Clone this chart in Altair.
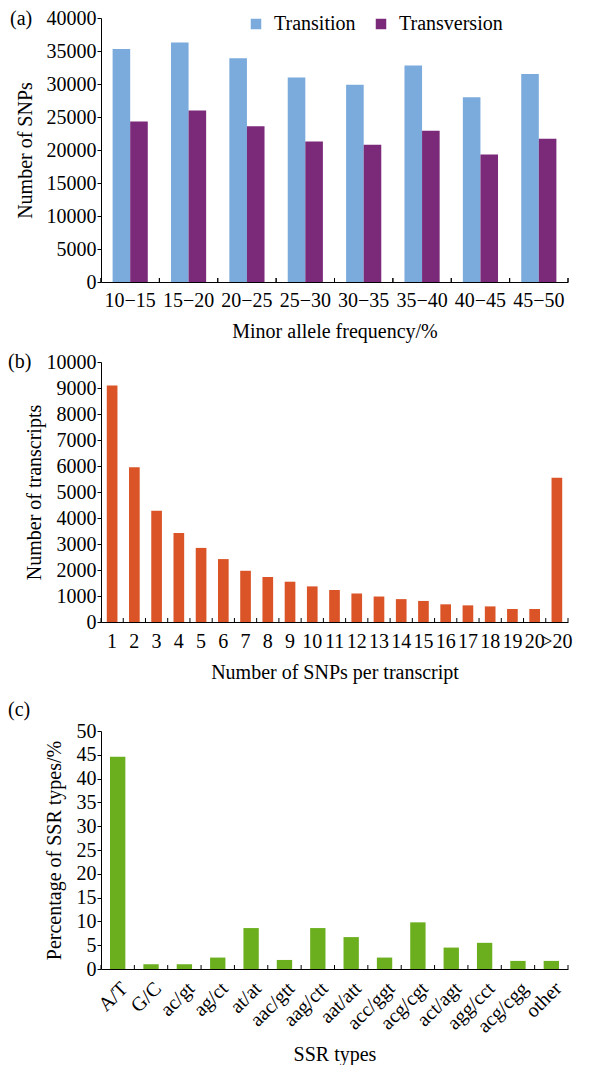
import altair as alt
import pandas as pd

# ---------------- data ----------------
maf_bins = ["10−15", "15−20", "20−25", "25−30", "30−35", "35−40", "40−45", "45−50"]
transition = [35300, 36300, 33900, 31000, 29900, 32800, 28000, 31500]
transversion = [24300, 26000, 23600, 21300, 20800, 22900, 19300, 21700]
snp_types = ["Transition", "Transversion"]

snp_counts = [str(i) for i in range(1, 21)] + [">20"]
transcripts = [9100, 5950, 4280, 3420, 2850, 2420, 1970, 1730, 1550, 1370,
               1230, 1100, 980, 880, 810, 680, 640, 600, 500, 500, 5550]

ssr_types = ["A/T", "G/C", "ac/gt", "ag/ct", "at/at", "aac/gtt", "aag/ctt",
             "aat/att", "acc/ggt", "acg/cgt", "act/agt", "agg/cct", "acg/cgg", "other"]
ssr_pct = [44.6, 1.0, 1.0, 2.4, 8.6, 1.9, 8.6, 6.7, 2.4, 9.8, 4.5, 5.5, 1.7, 1.7]

panel_labels = ["(a)", "(b)", "(c)"]

# ---------------- style ----------------
FONT = "Liberation Serif"
FS = 20
BLUE = "#7BAADC"
PURPLE = "#7A2A78"
ORANGE = "#DA5427"
GREEN = "#6BAF1F"
W = 467
HA, HB, HC = 264, 260, 238
TICK = 4


def xdef(cats, axis, band=None):
    kw = dict(sort=cats, scale=alt.Scale(paddingInner=0, paddingOuter=0), axis=axis)
    if band is not None:
        kw["bandPosition"] = band
    return alt.X("cat:N", **kw)


def inner_ticks(df, cats, axis, h):
    t = alt.Chart(df).mark_rule(color="black", strokeWidth=1).encode(
        x=xdef(cats, axis, 0), y=alt.value(h), y2=alt.value(h - TICK))
    end = alt.Chart(df).transform_filter(
        alt.datum.cat == cats[-1]).mark_rule(color="black", strokeWidth=1).encode(
        x=xdef(cats, axis, 1), y=alt.value(h), y2=alt.value(h - TICK))
    return t, end


def label(txt, dx, dy):
    return alt.Chart(pd.DataFrame({"t": [txt]})).mark_text(
        align="left", baseline="middle", font=FONT, fontSize=FS, color="black").encode(
        text="t:N", x=alt.value(dx), y=alt.value(dy))


# ---------------- panel (a) ----------------
df_a = pd.DataFrame({
    "cat": maf_bins * 2,
    "type": [snp_types[0]] * len(maf_bins) + [snp_types[1]] * len(maf_bins),
    "value": transition + transversion,
})
axis_xa = alt.Axis(title="Minor allele frequency/%", labelAngle=0, ticks=False,
                   labelPadding=8, titlePadding=11, labelOverlap=False)
bars_a = alt.Chart(df_a).mark_bar().encode(
    x=xdef(maf_bins, axis_xa),
    xOffset=alt.XOffset("type:N", sort=snp_types,
                        scale=alt.Scale(paddingInner=0, paddingOuter=0.66)),
    y=alt.Y("value:Q", scale=alt.Scale(domain=[0, 40000]),
            axis=alt.Axis(title="Number of SNPs", values=list(range(0, 40001, 5000)),
                          grid=False, tickSize=TICK, labelPadding=1, titlePadding=11,
                          format="d")),
    color=alt.Color("type:N", sort=snp_types,
                    scale=alt.Scale(domain=snp_types, range=[BLUE, PURPLE]),
                    legend=alt.Legend(title=None, orient="none", legendX=145, legendY=-4,
                                      direction="horizontal", symbolType="square",
                                      symbolSize=110, symbolStrokeWidth=0,
                                      labelFontSize=FS, labelFont=FONT, labelOffset=8,
                                      columnPadding=15, padding=0)),
)
ta, ea = inner_ticks(df_a, maf_bins, axis_xa, HA)
chart_a = alt.layer(bars_a, ta, ea, label(panel_labels[0], -91, 1)).properties(width=W, height=HA)

# ---------------- panel (b) ----------------
df_b = pd.DataFrame({"cat": snp_counts, "value": transcripts})
axis_xb = alt.Axis(title="Number of SNPs per transcript", labelAngle=0, ticks=False,
                   labelPadding=9, titlePadding=11, labelOverlap=False, labelBound=False)
bars_b = alt.Chart(df_b).mark_bar(color=ORANGE, width=alt.RelativeBandSize(0.48)).encode(
    x=xdef(snp_counts, axis_xb),
    y=alt.Y("value:Q", scale=alt.Scale(domain=[0, 10000]),
            axis=alt.Axis(title="Number of transcripts", values=list(range(0, 10001, 1000)),
                          grid=False, tickSize=TICK, labelPadding=1, titlePadding=2, format="d")),
)
tb, eb = inner_ticks(df_b, snp_counts, axis_xb, HB)
chart_b = alt.layer(bars_b, tb, eb, label(panel_labels[1], -93, 0)).properties(width=W, height=HB)

# ---------------- panel (c) ----------------
df_c = pd.DataFrame({"cat": ssr_types, "value": ssr_pct})
axis_xc = alt.Axis(title="SSR types", labelAngle=-45, ticks=False,
                   labelPadding=9, titlePadding=8, labelOverlap=False)
bars_c = alt.Chart(df_c).mark_bar(color=GREEN, width=alt.RelativeBandSize(0.46)).encode(
    x=xdef(ssr_types, axis_xc),
    y=alt.Y("value:Q", scale=alt.Scale(domain=[0, 50]),
            axis=alt.Axis(title="Percentage of SSR types/%", values=list(range(0, 51, 5)),
                          grid=False, tickSize=TICK, labelPadding=1, titlePadding=12)),
)
tc, ec = inner_ticks(df_c, ssr_types, axis_xc, HC)
chart_c = alt.layer(bars_c, tc, ec, label(panel_labels[2], -93, -21)).properties(width=W, height=HC)

chart = alt.vconcat(
    alt.vconcat(chart_a, chart_b, spacing=11),
    chart_c, spacing=18,
).properties(
    padding={"left": 0, "top": 0, "right": 0, "bottom": 0}
).configure_axis(
    labelFont=FONT, titleFont=FONT, labelFontSize=FS, titleFontSize=FS,
    labelColor="black", titleColor="black", domainColor="black", tickColor="black",
    titleFontWeight="normal", domainWidth=1,
).configure_view(stroke=None).configure_text(font=FONT)

chart.save("out.html", embed_options={"renderer": "svg", "actions": False})
